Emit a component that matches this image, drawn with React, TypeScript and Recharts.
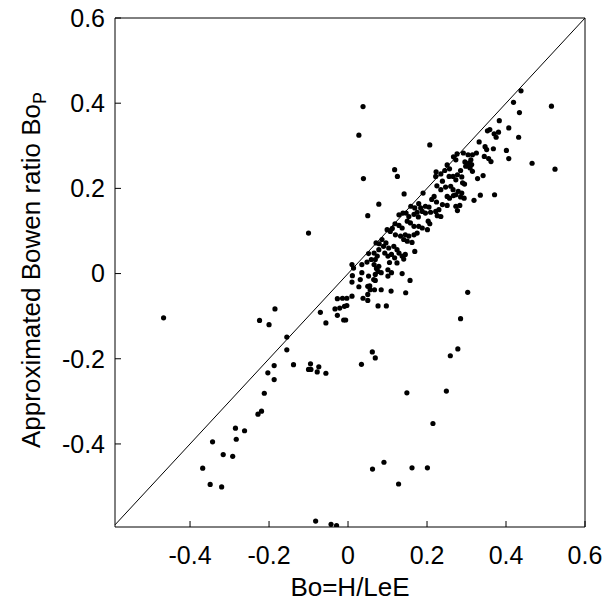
import { ScatterChart, Scatter, XAxis, YAxis, ReferenceLine, Label } from 'recharts'

// Bo = H/LeE (x) vs approximated Bowen ratio Bo_P (y)
const outlierPoints: [number, number][] = [
  [-0.1, 0.095], [-0.467, -0.104], [-0.185, -0.083], [-0.224, -0.11], [-0.2, -0.12],
  [-0.155, -0.149], [-0.155, -0.179], [-0.187, -0.216], [-0.203, -0.233], [-0.187, -0.249],
  [-0.212, -0.281], [-0.219, -0.323], [-0.228, -0.33], [-0.285, -0.363], [-0.262, -0.369],
  [-0.283, -0.389], [-0.343, -0.395], [-0.316, -0.425], [-0.292, -0.429], [-0.368, -0.457],
  [-0.349, -0.495], [-0.32, -0.501], [-0.138, -0.214], [-0.095, -0.212], [-0.1, -0.225],
  [-0.094, -0.225], [-0.078, -0.231], [-0.074, -0.219], [-0.056, -0.234],
  [-0.082, -0.581], [-0.043, -0.589], [-0.029, -0.592],
  [0.0615, -0.184], [0.069, -0.198], [0.034, -0.213], [0.149, -0.28], [0.249, -0.276],
  [0.215, -0.352], [0.091, -0.443], [0.062, -0.459], [0.162, -0.456], [0.201, -0.456],
  [0.128, -0.494], [0.303, -0.044], [0.285, -0.106], [0.278, -0.177], [0.259, -0.193],
  [0.038, 0.392], [0.0275, 0.325], [0.039, 0.223], [0.207, 0.302], [0.118, 0.244],
  [0.125, 0.228], [0.078, 0.163], [0.142, 0.187], [0.05, 0.136], [0.515, 0.393],
  [0.524, 0.245], [0.466, 0.259], [0.438, 0.429], [0.419, 0.402], [0.434, 0.378],
  [0.407, 0.342], [0.432, 0.32], [0.383, 0.359], [0.401, 0.289], [0.407, 0.27],
  [0.371, 0.185], [0.335, 0.184], [0.319, 0.172],
]

const lowerCore: [number, number][] = [
  [-0.07, -0.091], [-0.056, -0.116], [-0.027, -0.098], [-0.011, -0.109], [-0.006, -0.109],
  [-0.033, -0.083], [-0.021, -0.081], [-0.009, -0.077], [-0.003, -0.075],
  [-0.027, -0.059], [-0.014, -0.058], [-0.003, -0.058], [0.01, -0.053], [0.01, -0.02],
  [0.0275, -0.031], [0.038, -0.058], [0.05, -0.063], [0.05, -0.049], [0.055, -0.029],
  [0.067, -0.038], [0.069, -0.016], [0.084, -0.038], [0.076, -0.076], [0.097, -0.076],
  [0.109, -0.041], [0.146, -0.045], [0.157, -0.016],
  [0.011, -0.005], [0.035, 0.002], [0.031, -0.014], [0.052, -0.006], [0.065, -0.014],
  [0.072, 0.012], [0.069, -0.002], [0.101, -0.006], [0.11, 0.002], [0.137, 0.0],
  [0.05, -0.03], [0.056, -0.038],
  [0.01, 0.021], [0.014, 0.013], [0.035, 0.021], [0.048, 0.027], [0.059, 0.033],
  [0.069, 0.033], [0.066, 0.021], [0.078, 0.017], [0.105, 0.026], [0.101, 0.009],
  [0.076, 0.005], [0.084, 0.002],
]

const middleCore: [number, number][] = [
  [0.052, 0.047], [0.066, 0.048], [0.074, 0.041], [0.078, 0.056], [0.093, 0.048],
  [0.101, 0.041], [0.118, 0.037], [0.141, 0.034], [0.124, 0.025],
  [0.071, 0.072], [0.079, 0.07], [0.086, 0.08], [0.096, 0.072], [0.09, 0.064],
  [0.103, 0.06], [0.116, 0.064], [0.124, 0.056], [0.11, 0.045], [0.129, 0.048],
  [0.137, 0.041], [0.145, 0.045], [0.169, 0.052],
  [0.099, 0.103], [0.107, 0.099], [0.112, 0.106], [0.119, 0.117], [0.129, 0.113],
  [0.137, 0.107], [0.12, 0.091], [0.133, 0.088], [0.145, 0.091], [0.154, 0.088],
  [0.141, 0.08], [0.15, 0.076], [0.162, 0.073],
  [0.129, 0.138], [0.139, 0.142], [0.147, 0.142], [0.154, 0.134], [0.167, 0.139],
  [0.178, 0.133], [0.15, 0.123], [0.158, 0.119], [0.167, 0.111], [0.179, 0.111],
  [0.188, 0.107], [0.201, 0.103], [0.175, 0.095], [0.167, 0.091],
]

const upperCore: [number, number][] = [
  [0.159, 0.158], [0.169, 0.154], [0.179, 0.164], [0.184, 0.154], [0.196, 0.158],
  [0.205, 0.156], [0.175, 0.144], [0.188, 0.146], [0.196, 0.142], [0.209, 0.144],
  [0.222, 0.146], [0.23, 0.15], [0.226, 0.136], [0.235, 0.134], [0.203, 0.123],
  [0.207, 0.117],
  [0.19, 0.189], [0.218, 0.181], [0.212, 0.174], [0.224, 0.168], [0.239, 0.162],
  [0.251, 0.16], [0.273, 0.158], [0.283, 0.16], [0.277, 0.148],
  [0.225, 0.206], [0.235, 0.197], [0.247, 0.203], [0.26, 0.205], [0.266, 0.197],
  [0.279, 0.193], [0.295, 0.21], [0.288, 0.189], [0.273, 0.185], [0.257, 0.177],
  [0.267, 0.183], [0.285, 0.18], [0.294, 0.177], [0.251, 0.181],
  [0.251, 0.255], [0.257, 0.246], [0.245, 0.242], [0.223, 0.239], [0.235, 0.234],
  [0.222, 0.228], [0.239, 0.217], [0.256, 0.228], [0.266, 0.228], [0.277, 0.232],
  [0.285, 0.242], [0.288, 0.227], [0.273, 0.22], [0.29, 0.213], [0.298, 0.252],
  [0.276, 0.281], [0.267, 0.274], [0.273, 0.267], [0.292, 0.283], [0.304, 0.279],
  [0.296, 0.262], [0.302, 0.253], [0.307, 0.26],
]

const topCore: [number, number][] = [
  [0.353, 0.335], [0.359, 0.338], [0.37, 0.328], [0.375, 0.32], [0.381, 0.332],
  [0.332, 0.309], [0.347, 0.298], [0.351, 0.291], [0.368, 0.293], [0.325, 0.283],
  [0.315, 0.279], [0.345, 0.275], [0.356, 0.27], [0.362, 0.263], [0.311, 0.267],
  [0.313, 0.256], [0.309, 0.248], [0.315, 0.24], [0.328, 0.223], [0.342, 0.23],
]

const axisTicks = [-0.4, -0.2, 0, 0.2, 0.4, 0.6]
const xDomain = [-0.59, 0.6]
const yDomain = [-0.595, 0.6]

const data = [...outlierPoints, ...lowerCore, ...middleCore, ...upperCore, ...topCore].map(
  ([x, y]) => ({ x, y })
)

const font = 'Liberation Sans, Arial, Helvetica, sans-serif'
const tickStyle = { fontFamily: font, fontSize: 25, fill: '#000' }

const Dot = (props: { cx?: number; cy?: number }) => (
  <circle cx={props.cx} cy={props.cy} r={2.6} fill="#000" />
)

const YTitle = () => (
  <text
    x={40}
    y={270}
    transform="rotate(-90, 40, 270)"
    textAnchor="middle"
    fontFamily={font}
    fontSize={26}
    fill="#000"
  >
    Approximated Bowen ratio Bo
    <tspan dy={6} fontSize={18}>P</tspan>
  </text>
)

export default function App() {
  return (
    <div style={{ position: 'absolute', left: 0, top: 0, background: '#fff' }}>
      <ScatterChart width={604} height={606} margin={{ top: 17, right: 18, bottom: 0, left: 0 }}>
        <XAxis
          type="number"
          dataKey="x"
          domain={xDomain}
          ticks={axisTicks}
          allowDataOverflow
          height={79}
          tickSize={-6}
          tickMargin={25}
          tick={tickStyle}
          stroke="#000"
        >
          <Label
            value="Bo=H/LeE"
            position="insideBottom"
            offset={10}
            style={{ fontFamily: font, fontSize: 26, fill: '#000' }}
          />
        </XAxis>
        <YAxis
          type="number"
          dataKey="y"
          domain={yDomain}
          ticks={axisTicks}
          allowDataOverflow
          width={115}
          tickSize={-6}
          tickMargin={16}
          tick={tickStyle}
          stroke="#000"
          label={<YTitle />}
        />
        <XAxis
          xAxisId="top"
          orientation="top"
          type="number"
          domain={xDomain}
          ticks={axisTicks}
          allowDataOverflow
          height={1}
          tickSize={-6}
          tick={false}
          stroke="#000"
        />
        <YAxis
          yAxisId="right"
          orientation="right"
          type="number"
          domain={yDomain}
          ticks={axisTicks}
          allowDataOverflow
          width={1}
          tickSize={-6}
          tick={false}
          stroke="#000"
        />
        <ReferenceLine
          segment={[{ x: -0.59, y: -0.59 }, { x: 0.6, y: 0.6 }]}
          stroke="#000"
          strokeWidth={1}
        />
        <Scatter data={data} fill="#000" shape={<Dot />} isAnimationActive={false} />
      </ScatterChart>
    </div>
  )
}
